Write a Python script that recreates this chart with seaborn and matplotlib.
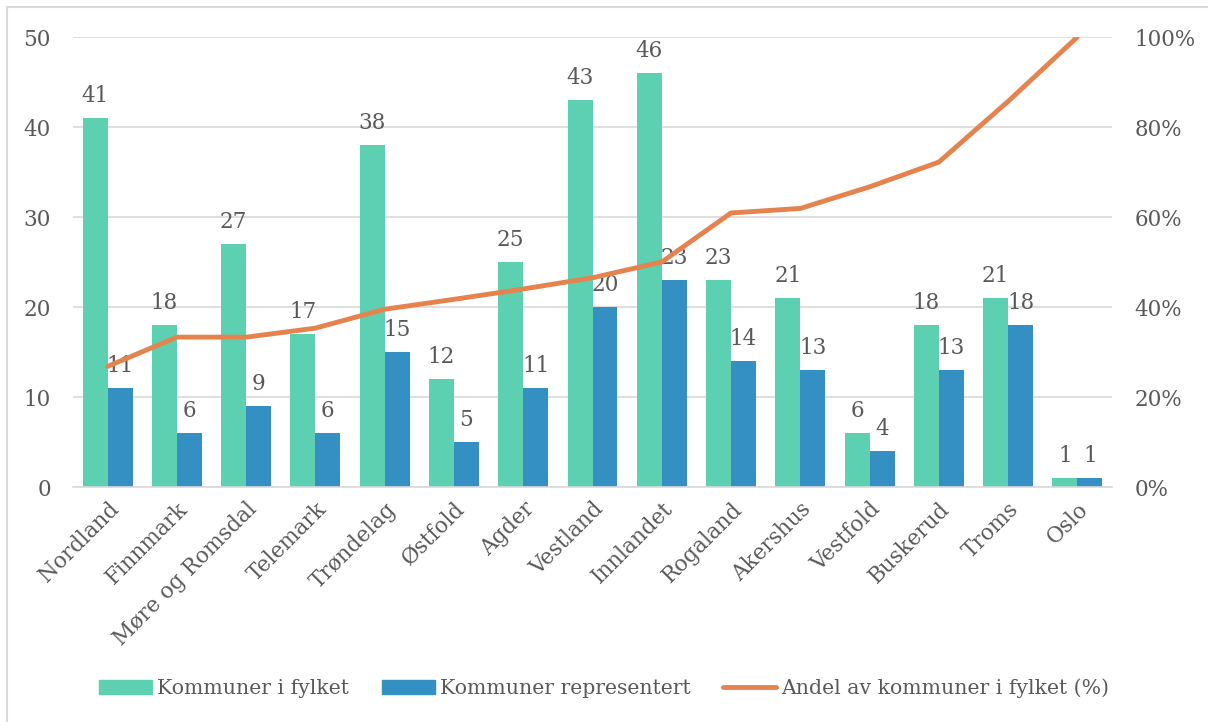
"""
Kommuner per fylke: bars for total / represented, line for share (%).
"""

import pandas as pd
import numpy as np
import matplotlib.pyplot as plt
import seaborn as sns
from matplotlib.patches import Rectangle, Patch
from matplotlib.lines import Line2D
from matplotlib.ticker import FuncFormatter

fylker = ['Nordland', 'Finnmark', 'Møre og Romsdal', 'Telemark', 'Trøndelag',
          'Østfold', 'Agder', 'Vestland', 'Innlandet', 'Rogaland', 'Akershus',
          'Vestfold', 'Buskerud', 'Troms', 'Oslo']
kommuner_i_fylket = [41, 18, 27, 17, 38, 12, 25, 43, 46, 23, 21, 6, 18, 21, 1]
kommuner_representert = [11, 6, 9, 6, 15, 5, 11, 20, 23, 14, 13, 4, 13, 18, 1]
andel_pct = [26.8, 33.3, 33.3, 35.3, 39.5, 41.7, 44.0, 46.5, 50.0, 60.9,
             61.9, 66.7, 72.2, 85.7, 100.0]

series_names = ['Kommuner i fylket', 'Kommuner representert']
line_name = 'Andel av kommuner i fylket (%)'

GREEN = '#5dd0b2'
BLUE = '#348fc2'
ORANGE = '#e5834f'
GRID = '#d9d9d9'
TEXT = '#595959'
FS = 15.5

sns.set_theme(style='white')
plt.rcParams['font.family'] = ['DejaVu Serif']

df = pd.DataFrame({
    'fylke': fylker * 2,
    'serie': [series_names[0]] * len(fylker) + [series_names[1]] * len(fylker),
    'antall': kommuner_i_fylket + kommuner_representert,
})

fig = plt.figure(figsize=(12.08, 7.22), dpi=100)
ax = fig.add_axes([73 / 1208, 1 - 487 / 722, (1112 - 73) / 1208, 450 / 722])

sns.barplot(data=df, x='fylke', y='antall', hue='serie', order=fylker,
            hue_order=series_names, palette=[GREEN, BLUE], width=0.72,
            saturation=1, linewidth=0, ax=ax, legend=False)

for cont in ax.containers:
    ax.bar_label(cont, padding=8, fontsize=FS, color=TEXT)

ax.set_ylim(0, 50)
ax.set_yticks(range(0, 51, 10))
ax.set_xlim(-0.5, len(fylker) - 0.5)
ax.set_xlabel('')
ax.set_ylabel('')
ax.grid(axis='y', color=GRID, linewidth=1.2)
ax.set_axisbelow(True)
for s in ['top', 'right', 'left']:
    ax.spines[s].set_visible(False)
ax.spines['bottom'].set_color(GRID)
ax.spines['bottom'].set_linewidth(1.2)
ax.tick_params(axis='y', length=0, labelsize=FS, labelcolor=TEXT, pad=16)
ax.tick_params(axis='x', length=0, labelsize=FS, labelcolor=TEXT, pad=8)
plt.setp(ax.get_xticklabels(), rotation=45, ha='right', rotation_mode='anchor')

ax2 = ax.twinx()
x = np.arange(len(fylker))
sns.lineplot(x=x, y=andel_pct, ax=ax2, color=ORANGE, linewidth=3.5,
             legend=False, zorder=1)
ax2.set_ylim(0, 100)
ax2.set_yticks(range(0, 101, 20))
ax2.yaxis.set_major_formatter(FuncFormatter(lambda v, _: f'{v:.0f}%'))
ax2.set_xlim(-0.5, len(fylker) - 0.5)
ax2.tick_params(axis='y', length=0, labelsize=FS, labelcolor=TEXT, pad=16)
ax2.set_ylabel('')
for s in ax2.spines.values():
    s.set_visible(False)

handles = [Patch(color=GREEN), Patch(color=BLUE),
           Line2D([0], [0], color=ORANGE, linewidth=3.5)]
fig.legend(handles, series_names + [line_name], loc='center',
           bbox_to_anchor=(0.5, 1 - 688 / 722), ncol=3, frameon=False,
           fontsize=14.7, labelcolor=TEXT, handlelength=2.6, handleheight=0.7,
           handletextpad=0.25, columnspacing=1.6)

fig.patches.append(Rectangle((7 / 1208, -0.01), 1.1, 1 - 7 / 722 + 0.01,
                             transform=fig.transFigure, fill=False,
                             edgecolor=GRID, linewidth=1.5))

fig.savefig('out.png', dpi=100)
